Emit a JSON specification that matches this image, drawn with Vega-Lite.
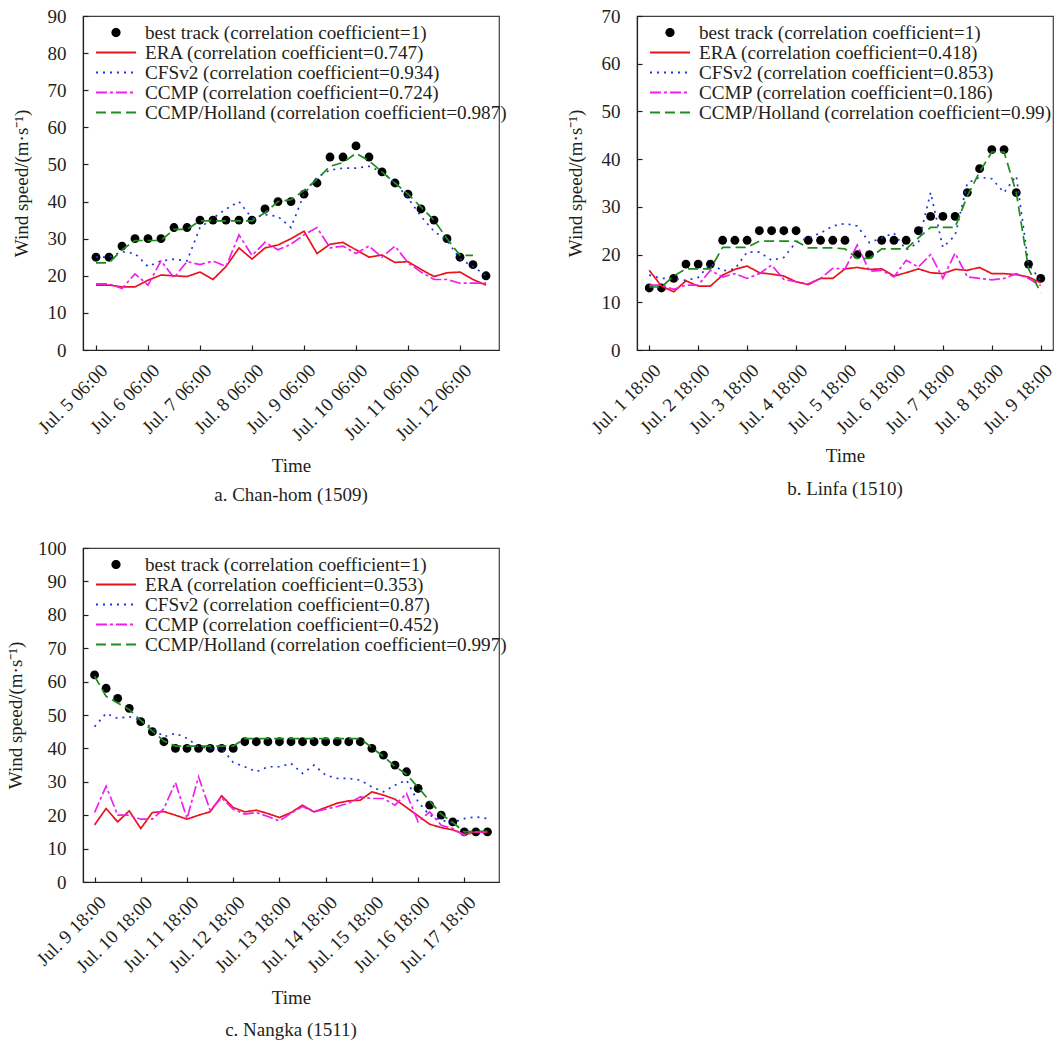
{
  "$schema": "https://vega.github.io/schema/vega-lite/v6.json",
  "background": "white",
  "padding": {"left": 5, "top": 6, "right": 0, "bottom": 0},
  "bounds": "flush",
  "columns": 2,
  "spacing": {"row": 198, "column": 138},
  "config": {
    "font": "Liberation Serif",
    "view": {"stroke": "#404040", "strokeWidth": 1.2},
    "axis": {
      "labelFont": "Liberation Serif", "labelFontSize": 19, "labelColor": "#231f20",
      "titleFont": "Liberation Serif", "titleFontSize": 19, "titleFontWeight": "normal", "titleColor": "#231f20",
      "domainColor": "#231f20", "domainWidth": 1.2, "tickColor": "#231f20", "tickWidth": 1.2, "tickSize": -5, "grid": false,
      "labelOverlap": false, "labelFlush": false, "labelBound": false
    },
    "legend": {"orient": "none", "legendX": 12, "legendY": 7.5, "title": null, "labelFont": "Liberation Serif", "labelFontSize": 19.2, "labelColor": "#231f20", "labelLimit": 600, "labelOffset": 8, "rowPadding": 0, "clipHeight": 18, "symbolType": "stroke", "symbolSize": 1600, "symbolStrokeWidth": 1.8},
    "title": {"font": "Liberation Serif", "fontSize": 19, "fontWeight": "normal", "color": "#231f20", "orient": "bottom", "anchor": "middle", "offset": 10}
  },
  "resolve": {"scale": {"x": "independent", "y": "independent", "color": "independent", "strokeDash": "independent"}, "legend": {"color": "independent", "strokeDash": "independent"}},
  "datasets": {
    "a": [
      {"i":0,"best":25,"ERA":17.5,"CFSv2":25,"CCMP":17.8,"Holland":23.5},
      {"i":1,"best":25,"ERA":17.5,"CFSv2":25,"CCMP":17.8,"Holland":23.5},
      {"i":2,"best":28,"ERA":17,"CFSv2":26.5,"CCMP":16.6,"Holland":27},
      {"i":3,"best":30,"ERA":17,"CFSv2":26,"CCMP":20.5,"Holland":29.5},
      {"i":4,"best":30,"ERA":18.8,"CFSv2":22.5,"CCMP":17.5,"Holland":29.5},
      {"i":5,"best":30,"ERA":20.2,"CFSv2":24,"CCMP":24,"Holland":29.5},
      {"i":6,"best":33,"ERA":20,"CFSv2":24.5,"CCMP":19.5,"Holland":32.5},
      {"i":7,"best":33,"ERA":19.8,"CFSv2":24,"CCMP":23.8,"Holland":32.5},
      {"i":8,"best":35,"ERA":21,"CFSv2":33,"CCMP":23,"Holland":34.8},
      {"i":9,"best":35,"ERA":19,"CFSv2":35.5,"CCMP":24,"Holland":34.8},
      {"i":10,"best":35,"ERA":22.5,"CFSv2":38,"CCMP":22.5,"Holland":34.8},
      {"i":11,"best":35,"ERA":27.5,"CFSv2":40,"CCMP":31,"Holland":34.8},
      {"i":12,"best":35,"ERA":24.5,"CFSv2":35.5,"CCMP":25.5,"Holland":34.8},
      {"i":13,"best":38,"ERA":27.5,"CFSv2":36.5,"CCMP":29,"Holland":37},
      {"i":14,"best":40,"ERA":28.3,"CFSv2":36,"CCMP":27,"Holland":40},
      {"i":15,"best":40,"ERA":30,"CFSv2":33,"CCMP":28.5,"Holland":40.5},
      {"i":16,"best":42,"ERA":32,"CFSv2":42,"CCMP":31,"Holland":43},
      {"i":17,"best":45,"ERA":26,"CFSv2":46.5,"CCMP":33,"Holland":46},
      {"i":18,"best":52,"ERA":28.5,"CFSv2":48.5,"CCMP":27.5,"Holland":49.5},
      {"i":19,"best":52,"ERA":29,"CFSv2":49,"CCMP":28,"Holland":50.5},
      {"i":20,"best":55,"ERA":27,"CFSv2":49,"CCMP":26,"Holland":53},
      {"i":21,"best":52,"ERA":25,"CFSv2":49.5,"CCMP":28,"Holland":51},
      {"i":22,"best":48,"ERA":25.6,"CFSv2":48,"CCMP":25,"Holland":48},
      {"i":23,"best":45,"ERA":23.6,"CFSv2":45,"CCMP":28,"Holland":45},
      {"i":24,"best":42,"ERA":23.8,"CFSv2":41,"CCMP":23.5,"Holland":42},
      {"i":25,"best":38,"ERA":21.7,"CFSv2":36,"CCMP":21,"Holland":38.5},
      {"i":26,"best":35,"ERA":19.8,"CFSv2":32,"CCMP":19,"Holland":35},
      {"i":27,"best":30,"ERA":20.8,"CFSv2":29.5,"CCMP":19,"Holland":30},
      {"i":28,"best":25,"ERA":21,"CFSv2":24.5,"CCMP":18,"Holland":25.5},
      {"i":29,"best":23,"ERA":19,"CFSv2":22.5,"CCMP":18,"Holland":25.5},
      {"i":30,"best":20,"ERA":17.5,"CFSv2":20,"CCMP":18,"Holland":null}
    ],
    "b": [
      {"i":0,"best":13,"ERA":16.7,"CFSv2":15.7,"CCMP":13.6,"Holland":13.2},
      {"i":1,"best":13,"ERA":13.4,"CFSv2":15,"CCMP":13.6,"Holland":13.2},
      {"i":2,"best":15,"ERA":12.2,"CFSv2":15,"CCMP":12.7,"Holland":15.5},
      {"i":3,"best":18,"ERA":14.5,"CFSv2":14.6,"CCMP":13.6,"Holland":17},
      {"i":4,"best":18,"ERA":13.4,"CFSv2":15.2,"CCMP":13.6,"Holland":17},
      {"i":5,"best":18,"ERA":13.4,"CFSv2":18.1,"CCMP":16.7,"Holland":17},
      {"i":6,"best":23,"ERA":15.7,"CFSv2":16.6,"CCMP":15.3,"Holland":21.5},
      {"i":7,"best":23,"ERA":16.9,"CFSv2":17,"CCMP":16,"Holland":21.5},
      {"i":8,"best":23,"ERA":17.6,"CFSv2":20.5,"CCMP":15,"Holland":21.5},
      {"i":9,"best":25,"ERA":16.2,"CFSv2":20.5,"CCMP":16,"Holland":22.8},
      {"i":10,"best":25,"ERA":15.9,"CFSv2":18.8,"CCMP":17.8,"Holland":22.8},
      {"i":11,"best":25,"ERA":15.5,"CFSv2":19.4,"CCMP":14.8,"Holland":22.8},
      {"i":12,"best":25,"ERA":14.3,"CFSv2":22.6,"CCMP":14.3,"Holland":22.8},
      {"i":13,"best":23,"ERA":13.7,"CFSv2":23.5,"CCMP":13.9,"Holland":21.4},
      {"i":14,"best":23,"ERA":15,"CFSv2":24.5,"CCMP":15,"Holland":21.4},
      {"i":15,"best":23,"ERA":15,"CFSv2":26,"CCMP":17.1,"Holland":21.4},
      {"i":16,"best":23,"ERA":17,"CFSv2":26.5,"CCMP":17,"Holland":21.2},
      {"i":17,"best":20,"ERA":17.3,"CFSv2":26,"CCMP":22,"Holland":19.2},
      {"i":18,"best":20,"ERA":16.9,"CFSv2":22.5,"CCMP":16.5,"Holland":19.2},
      {"i":19,"best":23,"ERA":17,"CFSv2":23.5,"CCMP":16.7,"Holland":21.2},
      {"i":20,"best":23,"ERA":15.5,"CFSv2":24.5,"CCMP":15.3,"Holland":21.2},
      {"i":21,"best":23,"ERA":16.2,"CFSv2":21,"CCMP":18.8,"Holland":21.2},
      {"i":22,"best":25,"ERA":17,"CFSv2":22.5,"CCMP":17.4,"Holland":23.5},
      {"i":23,"best":28,"ERA":16.2,"CFSv2":33,"CCMP":20,"Holland":25.7},
      {"i":24,"best":28,"ERA":16,"CFSv2":21.5,"CCMP":15,"Holland":25.7},
      {"i":25,"best":28,"ERA":16.9,"CFSv2":24,"CCMP":20.3,"Holland":25.7},
      {"i":26,"best":33,"ERA":16.7,"CFSv2":35,"CCMP":15.3,"Holland":32.3},
      {"i":27,"best":38,"ERA":17.3,"CFSv2":36.2,"CCMP":15,"Holland":37.3},
      {"i":28,"best":42,"ERA":16,"CFSv2":35.9,"CCMP":14.7,"Holland":41.5},
      {"i":29,"best":42,"ERA":16,"CFSv2":33,"CCMP":15,"Holland":41.5},
      {"i":30,"best":33,"ERA":15.8,"CFSv2":36.5,"CCMP":16,"Holland":33},
      {"i":31,"best":18,"ERA":15.3,"CFSv2":18,"CCMP":15,"Holland":17},
      {"i":32,"best":15,"ERA":14.1,"CFSv2":14.5,"CCMP":13.5,"Holland":12}
    ],
    "c": [
      {"i":0,"best":62,"ERA":17.1,"CFSv2":46.5,"CCMP":20.8,"Holland":61.6},
      {"i":1,"best":58,"ERA":22,"CFSv2":50.5,"CCMP":28.7,"Holland":55.6},
      {"i":2,"best":55,"ERA":18,"CFSv2":49,"CCMP":20,"Holland":53.6},
      {"i":3,"best":52,"ERA":21.3,"CFSv2":49.5,"CCMP":20,"Holland":51.6},
      {"i":4,"best":48,"ERA":16,"CFSv2":48.5,"CCMP":18.8,"Holland":48.4},
      {"i":5,"best":45,"ERA":20.8,"CFSv2":46,"CCMP":18.8,"Holland":45.2},
      {"i":6,"best":42,"ERA":21.1,"CFSv2":43.5,"CCMP":22,"Holland":42.2},
      {"i":7,"best":40,"ERA":20,"CFSv2":44.5,"CCMP":29.8,"Holland":40.7},
      {"i":8,"best":40,"ERA":18.8,"CFSv2":43,"CCMP":19,"Holland":40.7},
      {"i":9,"best":40,"ERA":20,"CFSv2":40.5,"CCMP":31.5,"Holland":40.7},
      {"i":10,"best":40,"ERA":21,"CFSv2":40,"CCMP":21.5,"Holland":40.7},
      {"i":11,"best":40,"ERA":25.8,"CFSv2":40,"CCMP":25.2,"Holland":40.7},
      {"i":12,"best":40,"ERA":22.3,"CFSv2":35.8,"CCMP":21.8,"Holland":40.7},
      {"i":13,"best":42,"ERA":21,"CFSv2":34.5,"CCMP":20.3,"Holland":42.9},
      {"i":14,"best":42,"ERA":21.5,"CFSv2":33,"CCMP":20.8,"Holland":42.9},
      {"i":15,"best":42,"ERA":20.5,"CFSv2":34.5,"CCMP":19.6,"Holland":42.9},
      {"i":16,"best":42,"ERA":19.3,"CFSv2":34.5,"CCMP":18.3,"Holland":42.9},
      {"i":17,"best":42,"ERA":20.8,"CFSv2":35.5,"CCMP":20.6,"Holland":42.9},
      {"i":18,"best":42,"ERA":23,"CFSv2":32.5,"CCMP":22.6,"Holland":42.9},
      {"i":19,"best":42,"ERA":21,"CFSv2":35,"CCMP":21,"Holland":42.9},
      {"i":20,"best":42,"ERA":22.3,"CFSv2":32,"CCMP":21.8,"Holland":42.9},
      {"i":21,"best":42,"ERA":23.6,"CFSv2":31,"CCMP":22.6,"Holland":42.9},
      {"i":22,"best":42,"ERA":24.3,"CFSv2":31,"CCMP":23.6,"Holland":42.9},
      {"i":23,"best":42,"ERA":24.5,"CFSv2":30.5,"CCMP":25.5,"Holland":42.9},
      {"i":24,"best":40,"ERA":27,"CFSv2":28.5,"CCMP":25,"Holland":40.2},
      {"i":25,"best":38,"ERA":26,"CFSv2":27,"CCMP":25,"Holland":37.6},
      {"i":26,"best":35,"ERA":24.8,"CFSv2":29,"CCMP":23,"Holland":34.6},
      {"i":27,"best":33,"ERA":22.3,"CFSv2":30.5,"CCMP":26.5,"Holland":32.2},
      {"i":28,"best":28,"ERA":19.8,"CFSv2":24,"CCMP":18,"Holland":28.3},
      {"i":29,"best":23,"ERA":17.3,"CFSv2":20,"CCMP":21,"Holland":24.3},
      {"i":30,"best":20,"ERA":16.3,"CFSv2":18.5,"CCMP":17,"Holland":20.3},
      {"i":31,"best":18,"ERA":15.6,"CFSv2":17.8,"CCMP":16,"Holland":17.8},
      {"i":32,"best":15,"ERA":14.3,"CFSv2":19,"CCMP":14,"Holland":15},
      {"i":33,"best":15,"ERA":15,"CFSv2":19.5,"CCMP":15,"Holland":15.2},
      {"i":34,"best":15,"ERA":14.8,"CFSv2":19,"CCMP":15,"Holland":15.2}
    ]
  },
  "concat": [
    {
      "width": 416, "height": 334,
      "title": {"text": "a. Chan-hom (1509)", "offset": 10},
      "data": {"name": "a"},
      "transform": [{"fold": ["best", "ERA", "CFSv2", "CCMP", "Holland"], "as": ["series", "v"]}],
      "encoding": {
        "x": {"field": "i", "type": "quantitative", "scale": {"domain": [-1, 31], "nice": false, "zero": false},
          "axis": {"values": [0, 4, 8, 12, 16, 20, 24, 28], "labelExpr": "'Jul. ' + (5 + datum.value / 4) + ' 06:00'", "labelAngle": -45, "labelAlign": "right", "labelBaseline": "middle", "labelPadding": 22, "labelOffset": 8, "title": "Time", "titlePadding": 13}},
        "y": {"field": "v", "type": "quantitative", "scale": {"domain": [0, 90], "nice": false},
          "axis": {"values": [0, 10, 20, 30, 40, 50, 60, 70, 80, 90], "labelPadding": 22, "title": "Wind speed/(m·s⁻¹)", "titlePadding": 16}}
      },
      "layer": [
        {"transform": [{"filter": "datum.series === 'best'"}], "mark": {"type": "circle", "size": 78, "color": "black", "opacity": 1}},
        {"transform": [{"filter": "datum.series !== 'best'"}], "mark": {"type": "line", "strokeWidth": 1.7},
          "encoding": {
            "color": {"field": "series", "type": "nominal", "scale": {"domain": ["best", "ERA", "CFSv2", "CCMP", "Holland"], "range": ["black", "#e8141c", "#1f35d6", "#f01ef0", "#1e8c1e"]},
              "legend": {
                "labelExpr": "datum.value === 'best' ? 'best track (correlation coefficient=1)' : datum.value === 'ERA' ? 'ERA (correlation coefficient=0.747)' : datum.value === 'CFSv2' ? 'CFSv2 (correlation coefficient=0.934)' : datum.value === 'CCMP' ? 'CCMP (correlation coefficient=0.724)' : 'CCMP/Holland (correlation coefficient=0.987)'",
                "encode": {"symbols": {"update": {"shape": {"signal": "datum.value === 'best' ? 'M-0.23,0A0.23,0.23,0,1,1,0.23,0A0.23,0.23,0,1,1,-0.23,0Z' : 'stroke'"}, "fill": {"signal": "datum.value === 'best' ? 'black' : 'transparent'"}, "strokeOpacity": {"signal": "datum.value === 'best' ? 0 : 1"}}}}}},
            "strokeDash": {"field": "series", "type": "nominal", "scale": {"domain": ["best", "ERA", "CFSv2", "CCMP", "Holland"], "range": [[1, 0], [1, 0], [2, 5], [11, 3, 3, 3], [10, 5]]}, "legend": null}
          }
        }
      ]
    },
    {
      "width": 416, "height": 334,
      "title": {"text": "b. Linfa (1510)", "offset": 15},
      "data": {"name": "b"},
      "transform": [{"fold": ["best", "ERA", "CFSv2", "CCMP", "Holland"], "as": ["series", "v"]}],
      "encoding": {
        "x": {"field": "i", "type": "quantitative", "scale": {"domain": [-1, 33], "nice": false, "zero": false},
          "axis": {"values": [0, 4, 8, 12, 16, 20, 24, 28, 32], "labelExpr": "'Jul. ' + (1 + datum.value / 4) + ' 18:00'", "labelAngle": -45, "labelAlign": "right", "labelBaseline": "middle", "labelPadding": 22, "labelOffset": 8, "title": "Time", "titlePadding": 9}},
        "y": {"field": "v", "type": "quantitative", "scale": {"domain": [0, 70], "nice": false},
          "axis": {"values": [0, 10, 20, 30, 40, 50, 60, 70], "labelPadding": 22, "title": "Wind speed/(m·s⁻¹)", "titlePadding": 16}}
      },
      "layer": [
        {"transform": [{"filter": "datum.series === 'best'"}], "mark": {"type": "circle", "size": 78, "color": "black", "opacity": 1}},
        {"transform": [{"filter": "datum.series !== 'best'"}], "mark": {"type": "line", "strokeWidth": 1.7},
          "encoding": {
            "color": {"field": "series", "type": "nominal", "scale": {"domain": ["best", "ERA", "CFSv2", "CCMP", "Holland"], "range": ["black", "#e8141c", "#1f35d6", "#f01ef0", "#1e8c1e"]},
              "legend": {
                "labelExpr": "datum.value === 'best' ? 'best track (correlation coefficient=1)' : datum.value === 'ERA' ? 'ERA (correlation coefficient=0.418)' : datum.value === 'CFSv2' ? 'CFSv2 (correlation coefficient=0.853)' : datum.value === 'CCMP' ? 'CCMP (correlation coefficient=0.186)' : 'CCMP/Holland (correlation coefficient=0.99)'",
                "encode": {"symbols": {"update": {"shape": {"signal": "datum.value === 'best' ? 'M-0.23,0A0.23,0.23,0,1,1,0.23,0A0.23,0.23,0,1,1,-0.23,0Z' : 'stroke'"}, "fill": {"signal": "datum.value === 'best' ? 'black' : 'transparent'"}, "strokeOpacity": {"signal": "datum.value === 'best' ? 0 : 1"}}}}}},
            "strokeDash": {"field": "series", "type": "nominal", "scale": {"domain": ["best", "ERA", "CFSv2", "CCMP", "Holland"], "range": [[1, 0], [1, 0], [2, 5], [11, 3, 3, 3], [10, 5]]}, "legend": null}
          }
        }
      ]
    },
    {
      "width": 416, "height": 334,
      "title": {"text": "c. Nangka (1511)", "offset": 13},
      "data": {"name": "c"},
      "transform": [{"fold": ["best", "ERA", "CFSv2", "CCMP", "Holland"], "as": ["series", "v"]}],
      "encoding": {
        "x": {"field": "i", "type": "quantitative", "scale": {"domain": [-1, 35], "nice": false, "zero": false},
          "axis": {"values": [0, 4, 8, 12, 16, 20, 24, 28, 32], "labelExpr": "'Jul. ' + (9 + datum.value / 4) + ' 18:00'", "labelAngle": -45, "labelAlign": "right", "labelBaseline": "middle", "labelPadding": 22, "labelOffset": 8, "title": "Time", "titlePadding": 13}},
        "y": {"field": "v", "type": "quantitative", "scale": {"domain": [0, 100], "nice": false},
          "axis": {"values": [0, 10, 20, 30, 40, 50, 60, 70, 80, 90, 100], "labelPadding": 22, "title": "Wind speed/(m·s⁻¹)", "titlePadding": 12}}
      },
      "layer": [
        {"transform": [{"filter": "datum.series === 'best'"}], "mark": {"type": "circle", "size": 78, "color": "black", "opacity": 1}},
        {"transform": [{"filter": "datum.series !== 'best'"}], "mark": {"type": "line", "strokeWidth": 1.7},
          "encoding": {
            "color": {"field": "series", "type": "nominal", "scale": {"domain": ["best", "ERA", "CFSv2", "CCMP", "Holland"], "range": ["black", "#e8141c", "#1f35d6", "#f01ef0", "#1e8c1e"]},
              "legend": {
                "labelExpr": "datum.value === 'best' ? 'best track (correlation coefficient=1)' : datum.value === 'ERA' ? 'ERA (correlation coefficient=0.353)' : datum.value === 'CFSv2' ? 'CFSv2 (correlation coefficient=0.87)' : datum.value === 'CCMP' ? 'CCMP (correlation coefficient=0.452)' : 'CCMP/Holland (correlation coefficient=0.997)'",
                "encode": {"symbols": {"update": {"shape": {"signal": "datum.value === 'best' ? 'M-0.23,0A0.23,0.23,0,1,1,0.23,0A0.23,0.23,0,1,1,-0.23,0Z' : 'stroke'"}, "fill": {"signal": "datum.value === 'best' ? 'black' : 'transparent'"}, "strokeOpacity": {"signal": "datum.value === 'best' ? 0 : 1"}}}}}},
            "strokeDash": {"field": "series", "type": "nominal", "scale": {"domain": ["best", "ERA", "CFSv2", "CCMP", "Holland"], "range": [[1, 0], [1, 0], [2, 5], [11, 3, 3, 3], [10, 5]]}, "legend": null}
          }
        }
      ]
    }
  ]
}
